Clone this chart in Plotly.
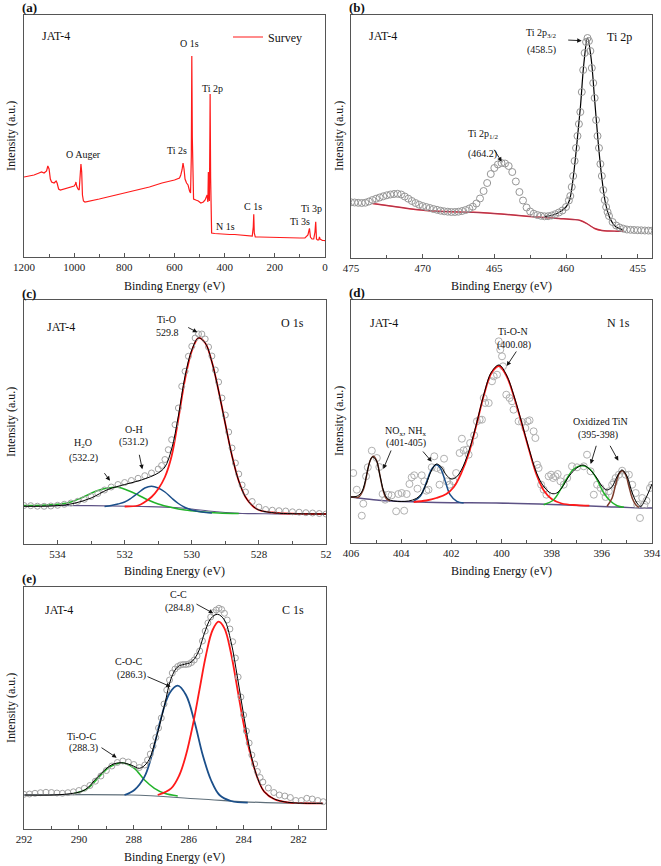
import plotly.graph_objects as go

W, H = 661, 866
FONT = "Liberation Serif"

# ---------------- (a) survey ----------------
be_survey = [1200, 1180, 1160, 1140, 1130, 1120, 1110, 1105, 1100, 1095, 1090, 1080, 1072, 1068, 1062,
             1055, 1040, 1020, 1000, 995, 993, 990, 985, 980, 976, 973, 970, 967, 963, 957, 900, 850,
             800, 750, 700, 650, 600, 580, 575, 570, 566, 562, 558, 552, 546, 540, 536, 533, 531, 529,
             527, 524, 515, 505, 495, 485, 478, 474, 470, 467, 465, 463, 461, 459, 458, 456, 454, 452,
             440, 420, 400, 380, 360, 340, 320, 300, 290, 286, 284, 282, 278, 260, 240, 200, 160, 120,
             100, 80, 68, 62, 58, 52, 45, 40, 37, 34, 30, 25, 22, 20, 15, 10, 5, 0]
int_survey = [80, 81, 82, 84, 85, 84, 86, 91, 88, 78, 75, 74, 76, 74, 68,
              67, 68, 69, 71, 73, 75, 71, 68, 67, 80, 93, 85, 62, 56, 55, 58, 61,
              64, 67, 70, 74, 77, 79, 82, 87, 94, 88, 78, 74, 72, 66, 64, 100, 201, 120,
              63, 58, 57, 56, 54, 55, 57, 60, 62, 55, 85, 60, 56, 120, 163, 80, 30, 24,
              23.5, 23, 22.8, 22.5, 22.5, 22.2, 22, 21.5, 21, 30, 42.7, 24, 20, 20, 19.8, 19.5, 19.5, 19.2,
              19, 19, 22, 28.7, 20, 18, 18, 25, 35.3, 18, 17, 17, 20, 18, 17, 16.5, 16.5, 16.3]

# ---------------- (b) Ti 2p ----------------
be_ti2p = [475.0, 474.75, 474.5, 474.25, 474.0, 473.75, 473.5, 473.25, 473.0, 472.75, 472.5, 472.25,
           472.0, 471.75, 471.5, 471.25, 471.0, 470.75, 470.5, 470.25, 470.0, 469.75, 469.5, 469.25,
           469.0, 468.75, 468.5, 468.25, 468.0, 467.75, 467.5, 467.25, 467.0, 466.75, 466.5, 466.25,
           466.0, 465.75, 465.5, 465.25, 465.0, 464.75, 464.5, 464.25, 464.0, 463.75, 463.5, 463.25,
           463.0, 462.75, 462.5, 462.25, 462.0, 461.75, 461.5, 461.25, 461.0, 460.75, 460.5, 460.25,
           460.0, 459.8, 459.7, 459.6, 459.5, 459.4, 459.3, 459.2, 459.1, 459.0, 458.9, 458.8, 458.7,
           458.6, 458.5, 458.4, 458.3, 458.2, 458.1, 458.0, 457.9, 457.8, 457.7, 457.6, 457.5, 457.4,
           457.3, 457.2, 457.1, 457.0, 456.75, 456.5, 456.25, 456.0, 455.75, 455.5, 455.25, 455.0,
           454.75, 454.5, 454.25, 454.0]
int_ti2p = [55.7, 55.5, 55.2, 55.0, 55.3, 56.5, 58.0, 59.3, 60.5, 61.7, 62.7, 63.5,
            64.0, 64.2, 63.5, 61.5, 59.3, 57.0, 55.0, 53.3, 52.0, 51.0, 50.0, 49.0,
            48.2, 47.3, 46.7, 46.3, 46.0, 46.0, 46.3, 47.0, 48.0, 49.5, 51.3, 54.5,
            59.5, 67.0, 75.0, 84.0, 90.0, 93.5, 95.0, 94.5, 92.0, 86.0, 76.5, 66.0,
            57.5, 50.5, 46.5, 44.3, 43.0, 42.2, 41.7, 41.8, 42.5, 43.8, 45.5, 47.5,
            51.0, 57.5, 62, 71, 82, 97, 110, 122, 134, 146, 166, 188, 205,
            216, 220, 217, 207, 190, 175, 160, 138, 122, 110, 94, 82, 68,
            58, 51, 46, 42, 36, 32.5, 30.5, 29.3, 28.5, 28.2, 28.0, 27.8,
            27.7, 27.5, 27.4, 27.3]
be_ti2p_fit = [461.5, 461.0, 460.5, 460.0, 459.75, 459.5, 459.25, 459.0, 458.75, 458.5, 458.25, 458.0,
               457.75, 457.5, 457.25, 457.0, 456.75, 456.5, 456.0]
int_ti2p_fit = [41.7, 42.5, 45.5, 51, 58, 80, 113, 150, 195, 220, 200, 158,
                115, 80, 55, 42, 35, 31, 28]
be_ti2p_bg = [473.5, 472.5, 471.5, 470.5, 469.5, 468.5, 467.5, 466.5, 465.5, 464.5, 463.5, 462.5,
              461.5, 460.5, 459.5, 459.0, 458.5, 458.0, 457.5, 457.0, 456.5, 456.0]
int_ti2p_bg = [54.5, 52.5, 50.5, 48.5, 47.3, 46.5, 46.0, 45.7, 45.0, 44.0, 42.8, 41.5,
               40.5, 39.5, 38.5, 37.5, 34.0, 29.5, 27.5, 27.0, 26.8, 26.7]

# ---------------- (c) O 1s ----------------
be_o1s = [535.0, 534.8, 534.6, 534.4, 534.2, 534.0, 533.8, 533.6, 533.4, 533.2, 533.0, 532.8, 532.6,
          532.4, 532.2, 532.0, 531.8, 531.6, 531.4, 531.2, 531.0, 530.9, 530.8, 530.7, 530.6, 530.5,
          530.4, 530.3, 530.2, 530.1, 530.0, 529.9, 529.8, 529.7, 529.6, 529.5, 529.4, 529.3, 529.2,
          529.1, 529.0, 528.9, 528.8, 528.7, 528.6, 528.5, 528.4, 528.2, 528.0, 527.8, 527.6, 527.4,
          527.2, 527.0, 526.8, 526.6, 526.4, 526.2, 526.0]
int_o1s = [38.5, 38.3, 37.8, 37.7, 38.0, 38.7, 39.7, 41.0, 42.7, 44.7, 47.5, 50.5, 54.0,
           57.0, 59.5, 61.5, 63.5, 65.7, 68.3, 71.0, 75.0, 78.5, 84.5, 94.3, 104.3, 119.3,
           136, 157.7, 172.7, 187.7, 197.7, 206, 210, 210, 205, 197, 188, 174, 162,
           146, 129, 112, 96, 81, 70, 59, 52, 42.5, 37, 34.5, 33.8, 33.3,
           33.0, 32.2, 31.8, 31.3, 31.0, 30.5, 30.0]
be_o1s_env = [535.0, 534.5, 534.0, 533.5, 533.0, 532.5, 532.0, 531.5, 531.0, 530.8, 530.6, 530.4, 530.2,
              530.0, 529.8, 529.6, 529.4, 529.2, 529.0, 528.8, 528.6, 528.4, 528.2, 528.0, 527.5,
              527.0, 526.0]
int_o1s_env = [37.7, 37.7, 38.3, 40.7, 46.0, 54.5, 59.5, 64.0, 71.0, 77, 95, 128, 168,
               194, 206, 201, 182, 153, 120, 88, 63, 47, 38.5, 34, 31, 30.3, 30]
be_o1s_tio = [532.0, 531.6, 531.4, 531.2, 531.0, 530.8, 530.6, 530.4, 530.2, 530.0, 529.8, 529.6, 529.4,
              529.2, 529.0, 528.8, 528.6, 528.4, 528.2, 528.0, 527.6, 527.0, 526.0]
int_o1s_tio = [37.5, 38.5, 42, 47, 55, 67, 88, 125, 165, 193, 206, 201, 182,
               153, 120, 88, 63, 47, 38.5, 34, 31.5, 30.3, 30]
be_o1s_oh = [532.6, 532.4, 532.2, 532.0, 531.8, 531.6, 531.4, 531.2, 531.0, 530.8, 530.6, 530.4, 530.2,
             530.0, 529.7, 529.4]
int_o1s_oh = [37.5, 38.5, 40, 42, 46, 51, 56, 57.7, 56, 52, 46, 40.5, 36.5, 34, 32, 31]
be_o1s_h2o = [535.0, 534.5, 534.0, 533.6, 533.2, 532.8, 532.5, 532.2, 531.9, 531.6, 531.3, 531.0, 530.6,
              530.2, 529.8, 529.2, 528.6]
int_o1s_h2o = [38.5, 38.7, 39.7, 42, 47.5, 53.5, 56, 56.7, 53.5, 49, 44, 40, 36.5, 34, 32.5, 31, 30.5]
be_o1s_bg = [535.0, 533.0, 531.5, 530.5, 530.0, 529.5, 529.0, 528.5, 527.5, 526.0]
int_o1s_bg = [38.5, 38.3, 37.5, 36.5, 35, 33, 31.5, 30.5, 30.2, 30]

# ---------------- (d) N 1s ----------------
be_n1s = [405.91, 405.77, 405.57, 405.51, 405.40, 405.33, 405.17, 404.97, 404.87, 404.74, 404.64, 404.51,
          404.38, 404.20, 404.11, 403.98, 403.88, 403.78, 403.67, 403.58, 403.48, 403.35, 403.18, 403.08,
          403.00, 402.91, 402.78, 402.68, 402.58, 402.47, 402.42, 402.29, 402.18, 402.07, 401.91, 401.81,
          401.67, 401.58, 401.51, 401.38, 401.31, 401.25, 401.09, 400.98, 400.87, 400.78, 400.71, 400.65,
          400.51, 400.38, 400.31, 400.18, 400.11, 400.05, 399.98, 399.94, 399.81, 399.68, 399.58, 399.52,
          399.32, 399.18, 399.05, 398.96, 398.88, 398.72, 398.65, 398.58, 398.52, 398.42, 398.32, 398.21,
          398.12, 398.02, 397.94, 397.85, 397.76, 397.65, 397.52, 397.38, 397.19, 396.99, 396.72, 396.59,
          396.45, 396.32, 396.19, 396.05, 395.92, 395.85, 395.72, 395.59, 395.52, 395.45, 395.32, 395.19,
          395.05, 394.92, 394.79, 394.65, 394.59, 394.48, 394.39, 394.30, 394.22, 394.08, 394.0]
int_n1s = [70, 53.3, 27.3, 39.3, 66.7, 75.7, 92.3, 85, 76, 49, 43.3, 48.3,
           47.7, 31.7, 49, 50, 32.3, 49, 59, 65.7, 67.7, 54.3, 67.7, 61.7,
           52.3, 53.3, 75.7, 86.7, 75, 58.3, 73.3, 84.3, 61.7, 58.3, 61.7, 70,
           90, 104.3, 92.7, 93.3, 88.3, 100, 107.7, 121.7, 123.3, 123.3, 145, 140,
           140, 161.7, 166.7, 168.3, 201.7, 193.3, 186.7, 176.7, 148.3, 145, 141.7, 133.3,
           121.7, 121, 115, 121.7, 122.7, 111.7, 105, 78.3, 75, 58.3, 53.3, 48.3,
           66.7, 68.3, 65, 66.7, 69, 61.7, 58.3, 65, 76.7, 75.7, 76.7, 88.3,
           71.7, 48.3, 58.3, 55, 51, 46, 51.7, 58.3, 60.7, 65, 68.3, 72.3,
           68.3, 68.3, 58.3, 50, 38.3, 25, 45, 38.3, 42.3, 55, 58.3]
be_n1s_env = [406.0, 405.8, 405.6, 405.45, 405.3, 405.15, 405.0, 404.85, 404.7, 404.55, 404.3, 404.0,
              403.7, 403.4, 403.2, 403.0, 402.8, 402.6, 402.4, 402.2, 402.0, 401.8, 401.6, 401.3,
              401.0, 400.7, 400.4, 400.1, 399.8, 399.5, 399.2, 398.9, 398.6, 398.3, 398.0, 397.8,
              397.6, 397.3, 397.0, 396.75, 396.5, 396.2, 396.0, 395.8, 395.6, 395.4, 395.2, 395.0,
              394.8, 394.6, 394.45, 394.3, 394.15, 394.0]
int_n1s_env = [46, 46.5, 50, 60, 77, 86, 83, 68, 52, 44.5, 42, 41.5,
               42, 44.5, 49, 59, 72, 79, 76, 68, 64, 66, 73, 92,
               119, 149, 171, 178, 168, 147, 121, 94, 70, 56, 49.5, 50,
               55, 67, 75, 78, 74, 65, 57, 53, 56, 66, 73, 67,
               51, 40, 36.5, 42, 50, 59]
be_n1s_p1 = [406.0, 405.85, 405.71, 405.51, 405.37, 405.24, 405.11, 404.97, 404.84, 404.71, 404.58, 404.44]
int_n1s_p1 = [46, 46, 45.7, 53.3, 68.3, 82.3, 86.7, 81.7, 66.7, 51.7, 44, 42.3]
be_n1s_p2 = [403.51, 403.24, 402.98, 402.78, 402.60, 402.44, 402.24, 402.05, 401.78, 401.51]
int_n1s_p2 = [41.7, 46.7, 61.7, 74, 78.3, 75, 61.7, 48.3, 41.7, 40]
be_n1s_p3 = [403.5, 403.0, 402.6, 402.2, 401.9, 401.6, 401.3, 401.0, 400.7, 400.4, 400.1, 399.8, 399.5,
             399.2, 398.9, 398.6, 398.3, 398.0, 397.6, 397.0, 396.5]
int_n1s_p3 = [41, 42.5, 45, 49, 56, 70, 90, 118, 148, 170, 177, 167, 146,
              120, 93, 68, 52, 44, 39.5, 37.8, 37.3]
be_n1s_p4 = [398.32, 397.92, 397.65, 397.38, 397.12, 396.76, 396.45, 396.19, 395.92, 395.65, 395.39, 395.12]
int_n1s_p4 = [38.3, 43.3, 53.3, 65, 74, 77.3, 73.3, 63.3, 50, 41.7, 37.3, 35.7]
be_n1s_p5 = [395.79, 395.59, 395.45, 395.32, 395.19, 395.05, 394.92, 394.79, 394.65, 394.52]
int_n1s_p5 = [36.7, 45, 58.3, 69, 72.3, 68.3, 56.7, 45, 38.3, 35.7]
be_n1s_bg = [406.0, 405.1, 404.2, 403.0, 402.0, 400.2, 398.0, 396.0, 394.5, 394.0]
int_n1s_bg = [46, 43.3, 41.7, 40.8, 40.3, 40, 38.5, 36.5, 35, 35]

# ---------------- (e) C 1s ----------------
be_c1s = [292.0, 291.8, 291.6, 291.4, 291.2, 291.0, 290.8, 290.6, 290.4, 290.2, 290.0, 289.8, 289.6,
          289.4, 289.2, 289.0, 288.8, 288.6, 288.4, 288.2, 288.0, 287.8, 287.6, 287.5, 287.4, 287.3,
          287.2, 287.1, 287.0, 286.9, 286.8, 286.7, 286.6, 286.5, 286.4, 286.3, 286.2, 286.1, 286.0,
          285.9, 285.8, 285.7, 285.6, 285.5, 285.4, 285.3, 285.2, 285.1, 285.0, 284.9, 284.8, 284.7,
          284.6, 284.5, 284.4, 284.3, 284.2, 284.1, 284.0, 283.9, 283.8, 283.7, 283.6, 283.5, 283.4,
          283.3, 283.1, 282.9, 282.7, 282.5, 282.3, 282.1, 281.9, 281.7, 281.5, 281.3, 281.1]
int_c1s = [34.7, 35.0, 35.7, 36.3, 36.7, 36.5, 36.0, 35.7, 36.3, 37.2, 38.5, 40.7, 43.5,
           47.8, 53.0, 58.5, 63, 66.5, 68, 67, 64.5, 61.5, 64, 69, 75, 83,
           91.5, 101, 111, 125, 139, 149, 156, 160, 162.5, 164, 164.5, 164.5, 165,
           166.5, 169, 173, 178, 188, 198, 206, 212, 216.5, 219, 220.7, 219.5, 215.7,
           209, 200, 187.3, 171, 152, 132, 114, 98, 86, 74, 65, 57.5, 51.5,
           47, 41, 36.5, 34, 33, 31.5, 28.5, 28.5, 30.7, 30, 28.5, 27.3]
be_c1s_env = [291.98, 290.52, 289.79, 289.31, 288.82, 288.46, 288.10, 287.79, 287.49, 287.19, 286.88, 286.64,
              286.40, 286.16, 285.92, 285.67, 285.43, 285.19, 284.95, 284.70, 284.46, 284.22, 283.98,
              283.73, 283.49, 283.25, 282.88, 282.40, 281.79, 281.13]
int_c1s_env = [34, 34.7, 39, 52.3, 64, 66.3, 64, 60.7, 67.3, 90.7, 124, 150.7,
               162.3, 164.7, 166.7, 175.7, 195.7, 210.7, 214.7, 209, 187.3, 150.7, 110.7,
               74, 50.7, 37.3, 30, 26.7, 25.7, 25.7]
be_c1s_cc = [287.13, 286.64, 286.34, 286.10, 285.85, 285.61, 285.37, 285.13, 284.91, 284.70, 284.46, 284.22,
             283.98, 283.73, 283.49, 283.25, 282.88, 282.40, 281.13]
int_c1s_cc = [34, 40.7, 54, 74, 104, 139, 174, 199, 207.3, 200.7, 175.7, 139,
              102.3, 72.3, 50.7, 37.3, 29.7, 26.7, 25.7]
be_c1s_coc = [288.34, 287.98, 287.61, 287.31, 287.01, 286.70, 286.40, 286.10, 285.79, 285.49, 285.19, 284.88,
              284.46, 283.85]
int_c1s_coc = [34, 39, 52.3, 77.3, 110.7, 135.7, 143.3, 134, 107.3, 74, 49, 34, 28, 26.3]
be_c1s_tioc = [290.16, 289.67, 289.31, 288.95, 288.64, 288.34, 287.98, 287.61, 287.25, 286.88, 286.40]
int_c1s_tioc = [35.7, 40.7, 50.7, 60.7, 65, 65.7, 60.7, 49, 40.7, 35.7, 33]
be_c1s_bg = [292.0, 288.1, 285.6, 283.2, 281.1]
int_c1s_bg = [34, 34, 30, 26.3, 25.7]

# ---------------- styling ----------------
RED = "#ff1a1a"
BLUE = "#1b4f8a"
GREEN = "#22b32a"
BROWN = "#7b3a2a"
BASE = "#5d5285"
DOTS = "#a3a3a3"

fig = go.Figure()


def line(x, y, n, color, width=1.5, name=None, legend=False, shape="spline"):
    ax = "" if n == 1 else str(n)
    fig.add_trace(go.Scatter(x=x, y=y, mode="lines", xaxis="x" + ax, yaxis="y" + ax,
                             line=dict(color=color, width=width, shape=shape),
                             name=name, showlegend=legend, hoverinfo="skip"))


def dots(x, y, n, size=6, color=DOTS):
    ax = "" if n == 1 else str(n)
    fig.add_trace(go.Scatter(x=x, y=y, mode="markers", xaxis="x" + ax, yaxis="y" + ax,
                             marker=dict(symbol="circle-open", size=size, color=color,
                                         line=dict(width=1, color=color)),
                             showlegend=False))


# (a)
line(be_survey, int_survey, 1, RED, 1.2, name="Survey", legend=True, shape="linear")
# (b)
line(be_ti2p_bg, int_ti2p_bg, 2, RED, 1.4)
line(be_ti2p_bg, int_ti2p_bg, 2, BASE, 0.6)
line(be_ti2p_fit, int_ti2p_fit, 2, "#000000", 1.2)
dots(be_ti2p, int_ti2p, 2, 7, "#969696")
# (c)
line(be_o1s_bg, int_o1s_bg, 3, BASE, 1.2)
line(be_o1s_h2o, int_o1s_h2o, 3, GREEN, 1.5)
line(be_o1s_oh, int_o1s_oh, 3, BLUE, 1.5)
line(be_o1s_tio, int_o1s_tio, 3, RED, 1.8)
dots(be_o1s, int_o1s, 3, 6)
line(be_o1s_env, int_o1s_env, 3, "#000000", 1.0)
# (d)
line(be_n1s_bg, int_n1s_bg, 4, BASE, 1.5)
dots(be_n1s, int_n1s, 4, 7, "#b0b0b0")
line(be_n1s_p1, int_n1s_p1, 4, BROWN, 1.5)
line(be_n1s_p2, int_n1s_p2, 4, BLUE, 1.5)
line(be_n1s_p3, int_n1s_p3, 4, RED, 1.8)
line(be_n1s_p4, int_n1s_p4, 4, GREEN, 1.5)
line(be_n1s_p5, int_n1s_p5, 4, BROWN, 1.5)
line(be_n1s_env, int_n1s_env, 4, "#000000", 1.0)
# (e)
line(be_c1s_bg, int_c1s_bg, 5, "#5f6f7a", 1.2)
line(be_c1s_tioc, int_c1s_tioc, 5, GREEN, 1.5)
line(be_c1s_coc, int_c1s_coc, 5, BLUE, 1.8)
line(be_c1s_cc, int_c1s_cc, 5, RED, 1.8)
dots(be_c1s, int_c1s, 5, 6)
line(be_c1s_env, int_c1s_env, 5, "#000000", 1.0)


def xd(l, r):
    return [l / W, r / W]


def yd(t, b):
    return [1 - b / H, 1 - t / H]


def xaxis(dom, rng, vals, texts, mdt, anchor):
    return dict(domain=dom, range=rng, anchor=anchor, showline=True, mirror=True, automargin=False,
                linecolor="#555", linewidth=1.2, ticks="inside", ticklen=4, tickcolor="#555",
                tickvals=vals, ticktext=texts, showgrid=False, zeroline=False,
                tickfont=dict(family=FONT, size=11, color="#222"),
                minor=dict(ticks="inside", ticklen=2.5, dtick=mdt, tick0=0, tickcolor="#555",
                           showgrid=False))


def yaxis(dom, rng, anchor):
    return dict(domain=dom, range=rng, anchor=anchor, showline=True, mirror=True, automargin=False,
                linecolor="#555", linewidth=1.2, ticks="", showticklabels=False,
                showgrid=False, zeroline=False)


ticks_a = [1200, 1000, 800, 600, 400, 200, 0]
ticks_b = [475, 470, 465, 460, 455]
ticks_c = [534, 532, 530, 528, 526]
ticks_d = [406, 404, 402, 400, 398, 396, 394]
ticks_e = [292, 290, 288, 286, 284, 282]

fig.update_layout(
    xaxis=xaxis(xd(24, 325), [1200, 0], ticks_a, [str(v) for v in ticks_a], 100, "y"),
    yaxis=yaxis(yd(15, 257), [0, 242], "x"),
    xaxis2=xaxis(xd(351, 652), [475, 454], ticks_b, [str(v) for v in ticks_b], 2.5, "y2"),
    yaxis2=yaxis(yd(15, 258), [0, 243], "x2"),
    xaxis3=xaxis(xd(24, 326), [535, 526], ticks_c, ["534", "532", "530", "528", "52"], 1, "y3"),
    yaxis3=yaxis(yd(300, 544), [0, 244], "x3"),
    xaxis4=xaxis(xd(351, 652), [406, 394], ticks_d, [str(v) for v in ticks_d], 1, "y4"),
    yaxis4=yaxis(yd(300, 543), [0, 243], "x4"),
    xaxis5=xaxis(xd(24, 326), [292, 281], ticks_e, [str(v) for v in ticks_e], 1, "y5"),
    yaxis5=yaxis(yd(587, 829), [0, 242], "x5"),
)

ann = []


def txt(x, y, s, size=10, bold=False, angle=0):
    ann.append(dict(x=x / W, y=1 - y / H, xref="paper", yref="paper", text=("<b>%s</b>" % s) if bold else s,
                    showarrow=False, textangle=angle, xanchor="center", yanchor="middle",
                    font=dict(family=FONT, size=size, color="#111")))


def arrow(tx, ty, hx, hy):
    ann.append(dict(x=hx / W, y=1 - hy / H, xref="paper", yref="paper", ax=tx - hx, ay=ty - hy,
                    axref="pixel", ayref="pixel", text="", showarrow=True, arrowhead=2,
                    arrowsize=1, arrowwidth=0.9, arrowcolor="#111", standoff=0, startstandoff=0))


SMALL = 10
CORNER = 12
LABEL_A = 10

# panel letters
txt(29, 8, "(a)", 13, bold=True)
txt(357, 7, "(b)", 13, bold=True)
txt(29, 293, "(c)", 13, bold=True)
txt(357, 292, "(d)", 13, bold=True)
txt(29, 578, "(e)", 13, bold=True)

# axis titles
for cx, cy in [(174.5, 286), (501.5, 286), (175, 571), (501.5, 571), (175, 857)]:
    txt(cx, cy, "Binding Energy (eV)", 12)
for cx, cy in [(11, 136), (339, 136), (11, 422), (339, 421), (11, 708)]:
    txt(cx, cy, "Intensity (a.u.)", 12, angle=-90)

# (a)
txt(55.5, 36, "JAT-4", CORNER)
txt(190, 44, "O 1s", LABEL_A)
txt(212.5, 88.3, "Ti 2p", LABEL_A)
txt(176.7, 150, "Ti 2s", LABEL_A)
txt(83.3, 155, "O Auger", LABEL_A)
txt(225, 226.7, "N 1s", LABEL_A)
txt(253.3, 206.7, "C 1s", LABEL_A)
txt(300, 221.7, "Ti 3s", LABEL_A)
txt(311, 208.3, "Ti 3p", LABEL_A)
# (b)
txt(383.3, 35.8, "JAT-4", CORNER)
txt(619.7, 36.7, "Ti 2p", CORNER)
txt(540.7, 33.3, "Ti 2p<sub>3/2</sub>", SMALL)
txt(541.3, 50, "(458.5)", SMALL)
arrow(566.7, 40, 581.7, 40.7)
txt(482.5, 135, "Ti 2p<sub>1/2</sub>", SMALL)
txt(482, 154, "(464.2)", SMALL)
arrow(493.3, 148.3, 501.7, 161.7)
# (c)
txt(60.8, 326.7, "JAT-4", CORNER)
txt(292.5, 323.3, "O 1s", CORNER)
txt(166.7, 319.3, "Ti-O", SMALL)
txt(167.5, 332.5, "529.8", SMALL)
arrow(186.7, 326.7, 197.3, 332.3)
txt(133.7, 429, "O-H", SMALL)
txt(133.8, 441.7, "(531.2)", SMALL)
arrow(139, 453.3, 142.3, 469.3)
txt(83.3, 443.3, "H<sub>2</sub>O", SMALL)
txt(83.3, 458.3, "(532.2)", SMALL)
arrow(103.3, 471.7, 110, 480.7)
# (d)
txt(383.7, 323.3, "JAT-4", CORNER)
txt(618, 323.3, "N 1s", CORNER)
txt(512.5, 331.2, "Ti-O-N", SMALL)
txt(514, 345, "(400.08)", SMALL)
arrow(517.3, 350, 506.7, 366)
txt(405.8, 431.7, "NO<sub>x</sub>, NH<sub>x</sub>", SMALL)
txt(406, 443.3, "(401-405)", SMALL)
arrow(391.7, 449, 383.3, 469)
arrow(421.7, 450, 431.7, 461.7)
txt(600.8, 421.7, "Oxidized TiN", SMALL)
txt(597.5, 435, "(395-398)", SMALL)
arrow(596.7, 444.3, 590.7, 464)
arrow(609.3, 444.3, 618.3, 460.7)
# (e)
txt(59.2, 610, "JAT-4", CORNER)
txt(293.3, 610, "C 1s", CORNER)
txt(178, 594.5, "C-C", SMALL)
txt(179.7, 607.5, "(284.8)", SMALL)
arrow(195, 603.3, 213.3, 613.3)
txt(128.8, 661.7, "C-O-C", SMALL)
txt(131, 674.5, "(286.3)", SMALL)
arrow(146, 676, 170.7, 686.7)
txt(81.7, 736.7, "Ti-O-C", SMALL)
txt(83.7, 748.3, "(288.3)", SMALL)
arrow(100, 746.7, 116.7, 757.7)

fig.update_layout(
    annotations=ann,
    width=W, height=H,
    margin=dict(l=0, r=0, t=0, b=0, pad=0, autoexpand=False),
    paper_bgcolor="white", plot_bgcolor="white",
    font=dict(family=FONT, color="#111"),
    showlegend=True,
    legend=dict(x=228 / W, y=1 - 37 / H, xanchor="left", yanchor="middle",
                bgcolor="rgba(0,0,0,0)", font=dict(family=FONT, size=12, color="#111"),
                itemwidth=30, tracegroupgap=0),
)

fig.write_html("out.html", config={"displayModeBar": False},
               post_script="document.body.style.margin='0';document.body.style.overflow='hidden';")
